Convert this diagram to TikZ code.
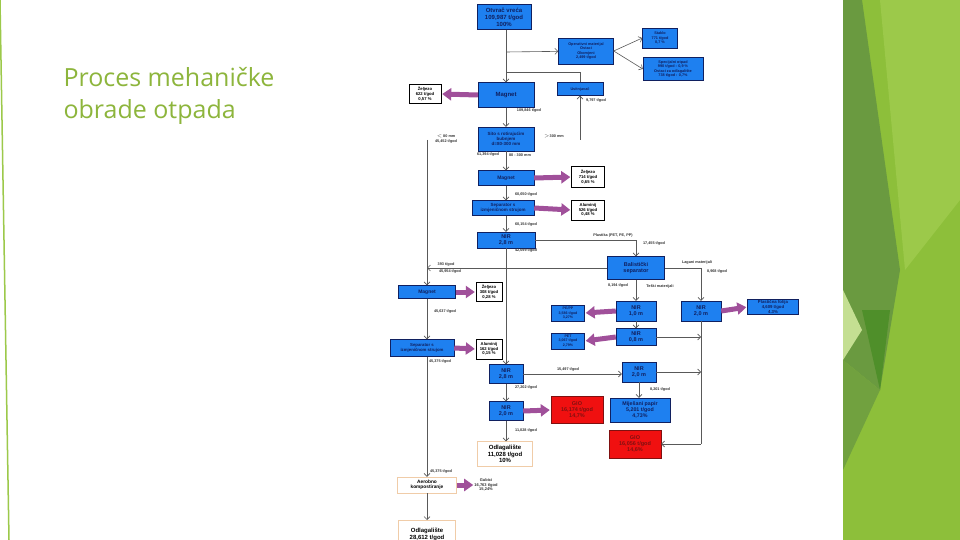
\documentclass[tikz,border=0pt]{standalone}
\usepackage{fontspec}
\setmainfont{Liberation Sans}
\newfontfamily\titlefont{Open Sans}
\usetikzlibrary{arrows.meta}

\definecolor{boxblue}{HTML}{1E80F0}
\definecolor{boxtext}{HTML}{102060}
\definecolor{boxred}{HTML}{F01010}
\definecolor{redtext}{HTML}{801010}
\definecolor{fatpurple}{HTML}{A0509A}
\definecolor{titlegreen}{HTML}{8DB53C}
\definecolor{leafA}{HTML}{8DBF3A}
\definecolor{leafB}{HTML}{6A9A40}
\definecolor{leafC}{HTML}{9CC94A}
\definecolor{leafD}{HTML}{4F8F2A}

\tikzset{
  proc/.style={draw=boxtext, fill=boxblue, text=boxtext, font=\bfseries\fontsize{5.5}{6.2}\selectfont,
    align=center, inner sep=0pt},
  hot/.style={proc, fill=boxred, draw=redtext, text=redtext},
  yield/.style={draw=black, fill=white, font=\bfseries\fontsize{4.2}{4.8}\selectfont, align=center, inner sep=0pt},
  dump/.style={draw=orange!40!brown!40, fill=white, font=\bfseries\fontsize{6}{6.6}\selectfont, align=center, inner sep=0pt},
  flow/.style={draw=gray!70!black, line width=0.6pt, -{Straight Barb[length=3pt]}},
  line/.style={draw=gray!70!black, line width=0.6pt},
  fat/.style={draw=fatpurple, line width=5pt, -{Triangle[width=12pt,length=9pt]}, shorten >=1pt},
  amount/.style={font=\bfseries\fontsize{3.8}{4.2}\selectfont, text=black!80, align=center, inner sep=0pt}
}

\begin{document}
\begin{tikzpicture}[x=1pt,y=-1pt]
\useasboundingbox (0,0) rectangle (960,540);
\fill[white] (0,0) rectangle (960,540);

% green slide decoration
\fill[leafA] (843,0) rectangle (960,540);
\fill[leafB] (843,0) -- (862,0) -- (900,270) -- (880,390) -- (843,360) -- cycle;
\fill[leafC] (880,0) -- (960,0) -- (960,200) -- (905,270) -- cycle;
\fill[leafD] (862,310) -- (890,310) -- (880,390) -- cycle;
\fill[leafC!60!white] (843,290) -- (862,330) -- (843,360) -- cycle;
\fill[leafB!80!leafA] (843,360) -- (880,390) -- (843,470) -- cycle;
\draw[leafC, line width=1.5pt] (0,0) -- (9,540);

% title
\node[anchor=west, text=titlegreen, font=\titlefont\fontsize{25}{32}\selectfont, align=left] (title)
  at (60,96) {Proces mehaničke\\obrade otpada};

% nodes
\node[proc, minimum width=54, minimum height=25, font=\bfseries\fontsize{6}{6.8}\selectfont] (gate) at (504,17) {Otvrač vreća\\109,987 t/god\\100\%};
\node[proc, minimum width=55, minimum height=26, font=\bfseries\fontsize{3.8}{4.6}\selectfont] (oper) at (586,51) {Operativni materijal\\Ostaci\\Okomjeni\\2,499 t/god};
\node[proc, minimum width=35, minimum height=20, font=\bfseries\fontsize{3.8}{4.6}\selectfont] (glass) at (660,38) {Staklo\\771 t/god\\0,7 \%};
\node[proc, minimum width=60, minimum height=23, font=\bfseries\fontsize{3.8}{4.6}\selectfont] (special) at (673,69) {Specijalni otpad\\990 t/god : 0,9 \%\\Ostaci za odlagalište\\738 t/god : 0,7\%};
\node[proc, minimum width=56, minimum height=25, font=\bfseries\fontsize{6}{7}\selectfont] (magA) at (506,95) {Magnet};
\node[proc, minimum width=46, minimum height=13, font=\bfseries\fontsize{3.8}{4.6}\selectfont] (shred) at (580,89) {Usitnjavač};
\node[yield, minimum width=32, minimum height=19] (ironA) at (425,94) {Željezo\\622 t/god\\0,57 \%};
\node[proc, minimum width=56, minimum height=24, font=\bfseries\fontsize{4.5}{5.2}\selectfont] (sieve) at (506,139) {Sito s rotirajućim\\bubnjem\\d=80-300 mm};
\node[proc, minimum width=56, minimum height=15, font=\bfseries\fontsize{5}{6}\selectfont] (magB) at (506,178) {Magnet};
\node[yield, minimum width=33, minimum height=21] (ironB) at (588,177) {Željezo\\714 t/god\\0,65 \%};
\node[proc, minimum width=62, minimum height=15, font=\bfseries\fontsize{4.5}{5}\selectfont] (sepA) at (503,208) {Separator s\\izmjeničnom strujom};
\node[yield, minimum width=33, minimum height=20] (aluA) at (588,210) {Aluminij\\526 t/god\\0,48 \%};
\node[proc, minimum width=58, minimum height=16] (nirA) at (506,240) {NIR\\2,8 m};
\node[proc, minimum width=57, minimum height=23, font=\bfseries\fontsize{5.5}{6.4}\selectfont] (ball) at (636,268) {Balistički\\separator};
\node[proc, minimum width=57, minimum height=13, font=\bfseries\fontsize{5}{6}\selectfont] (magC) at (427,292) {Magnet};
\node[yield, minimum width=26, minimum height=19] (ironC) at (489,292) {Željezo\\308 t/god\\0,28 \%};
\node[proc, minimum width=40, minimum height=20] (nirB) at (636,311) {NIR\\1,0 m};
\node[proc, minimum width=40, minimum height=20] (nirC) at (701,311) {NIR\\2,0 m};
\node[proc, minimum width=51, minimum height=15, font=\bfseries\fontsize{4.3}{4.8}\selectfont] (foil) at (773,307) {Plastična folija\\4,609 t/god\\4.3\%};
\node[proc, minimum width=33, minimum height=16, font=\bfseries\fontsize{3.6}{4.2}\selectfont] (pepp) at (568,313) {PE/PP\\3,586 t/god\\3,27\%};
\node[proc, minimum width=33, minimum height=16, font=\bfseries\fontsize{3.6}{4.2}\selectfont] (pet) at (568,341) {PET\\3,067 t/god\\2,79\%};
\node[proc, minimum width=40, minimum height=17] (nirD) at (636,337) {NIR\\0,8 m};
\node[proc, minimum width=64, minimum height=17, font=\bfseries\fontsize{4.3}{5}\selectfont] (sepB) at (422,348) {Separator s\\izmjeničnom strujom};
\node[yield, minimum width=26, minimum height=20] (aluB) at (489,349) {Aluminij\\162 t/god\\0,15 \%};
\node[proc, minimum width=34, minimum height=19] (nirE) at (506,374) {NIR\\2,8 m};
\node[proc, minimum width=34, minimum height=20] (nirF) at (639,372) {NIR\\2,0 m};
\node[proc, minimum width=34, minimum height=19] (nirG) at (506,411) {NIR\\2,0 m};
\node[hot, minimum width=52, minimum height=27] (gioA) at (577,410) {GIO\\16,174 t/god\\14,7\%};
\node[proc, minimum width=60, minimum height=24, font=\bfseries\fontsize{5.3}{6}\selectfont] (paper) at (640,410) {Miješani papir\\5,201 t/god\\4,73\%};
\node[hot, minimum width=52, minimum height=28] (gioB) at (635,444) {GIO\\16,056 t/god\\14,6\%};
\node[dump, minimum width=55, minimum height=25] (landA) at (505,454) {Odlagalište\\11,028 t/god\\10\%};
\node[dump, minimum width=59, minimum height=16, font=\bfseries\fontsize{4.8}{5.4}\selectfont] (compost) at (427,485) {Aerobno\\kompostiranje};
\node[amount, font=\bfseries\fontsize{4}{4.6}\selectfont] (loss) at (486,485) {Gubici\\16,763 t/god\\15,24\%};
\node[dump, minimum width=57, minimum height=34, anchor=north] (landB) at (427,520) {Odlagalište\\28,612 t/god\\26\%};

% helper points
\coordinate (splitTop) at (506,52);
\coordinate (joinTop) at (506,72);
\coordinate (shredUp) at (580,72);
\coordinate (shredIn) at (580,140);
\coordinate (fineTop) at (427,140);
\coordinate (ballLeft) at (427,268);
\coordinate (plastTurn) at (636,240);
\coordinate (lightTurn) at (701,268);
\coordinate (rightRail) at (701,444);

% connectors
\draw[flow] (gate.south -| magA) -- (magA);
\draw[flow] (splitTop) -- (oper);
\draw[flow] (oper.east) -- (glass.west);
\draw[flow] (oper.east) -- (special.west);
\draw[line] (shred.north) -- (shredUp) -- (joinTop);
\draw[flow] (shredIn) -- (shred.south);
\draw[flow] (magA) -- (sieve);
\draw[flow] (sieve) -- (magB);
\draw[flow] (magB) -- (sepA.north -| magB);
\draw[flow] (sepA.south -| nirA) -- (nirA);
\draw[flow] (fineTop) -- (magC);
\draw[flow] (ball.west) -- (ballLeft);
\draw[flow] (nirA.east) -- (plastTurn) -- (ball.north);
\draw[flow] (nirA) -- (nirE);
\draw[flow] (ball) -- (nirB);
\draw[flow] (ball.east) -- (lightTurn) -- (nirC.north);
\draw[flow] (nirB) -- (nirD);
\draw[line] (nirC) -- (rightRail);
\draw[flow] (rightRail) -- (gioB.east);
\draw[flow] (nirD.east) -- (nirD.east -| rightRail);
\draw[flow] (nirF.east) -- (nirF.east -| rightRail);
\draw[flow] (nirE) -- (nirE -| nirF.west);
\draw[flow] (nirF) -- (paper.north -| nirF);
\draw[flow] (nirE) -- (nirG);
\draw[flow] (nirG) -- (landA.north -| nirG);
\draw[flow] (magC) -- (sepB.north -| magC);
\draw[flow] (sepB.south -| magC) -- (compost);
\draw[flow] (compost) -- (landB);

% fat outputs
\draw[fat] (magA.west) -- (ironA.east);
\draw[fat] (magB.east) -- (ironB.west);
\draw[fat] (sepA.east) -- (aluA.west);
\draw[fat] (magC.east) -- (ironC.west);
\draw[fat] (sepB.east) -- (aluB.west);
\draw[fat] (nirB.west) -- (pepp.east);
\draw[fat] (nirD.west) -- (pet.east);
\draw[fat] (nirC.east) -- (foil.west);
\draw[fat] (nirG.east) -- (gioA.west);
\draw[fat] (compost.east) -- (loss.west);

% amounts
\node[amount] (q1) at (529,111) {109,846 t/god};
\node[amount] (q2) at (596,101) {9,797 t/god};
\node[amount] (q3) at (446,139) {$<$ 80 mm\\45,452 t/god};
\node[amount] (q4) at (554,136) {$>$300 mm};
\node[amount] (q5) at (488,155) {61,394 t/god};
\node[amount] (q6) at (520,155) {80 - 300 mm};
\node[amount] (q7) at (526,195) {60,650 t/god};
\node[amount] (q8) at (526,225) {60,154 t/god};
\node[amount] (q9) at (613,236) {Plastika (PET, PE, PP)};
\node[amount] (q10) at (654,244) {17,455 t/god};
\node[amount] (q11) at (526,251) {42,699 t/god};
\node[amount] (q12) at (446,265) {393 t/god};
\node[amount] (q13) at (450,272) {45,954 t/god};
\node[amount] (q14) at (697,263) {Lagani materijali};
\node[amount] (q15) at (717,272) {8,968 t/god};
\node[amount] (q16) at (618,286) {8,194 t/god};
\node[amount] (q17) at (660,286) {Teški materijali};
\node[amount] (q18) at (445,312) {45,637 t/god};
\node[amount] (q19) at (440,362) {45,375 t/god};
\node[amount] (q20) at (568,370) {15,497 t/god};
\node[amount] (q21) at (526,388) {27,202 t/god};
\node[amount] (q22) at (660,390) {8,201 t/god};
\node[amount] (q23) at (526,431) {11,028 t/god};
\node[amount] (q24) at (441,472) {45,375 t/god};
\end{tikzpicture}
\end{document}
